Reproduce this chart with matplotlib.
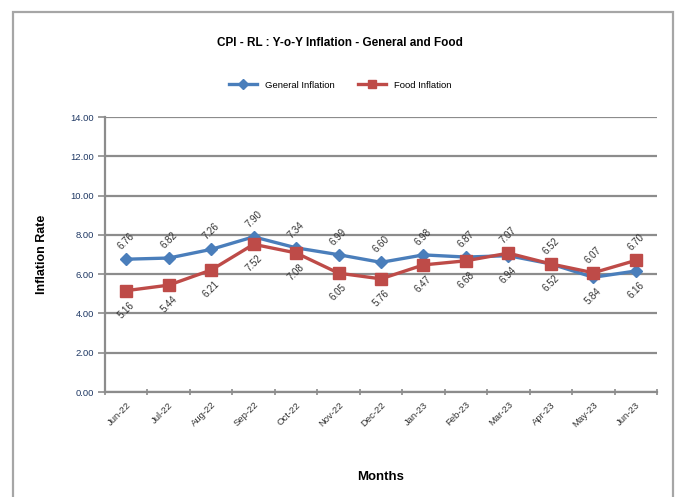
import matplotlib
matplotlib.use("Agg")
import matplotlib.pyplot as plt
from matplotlib.patches import Rectangle

months = ["Jun-22", "Jul-22", "Aug-22", "Sep-22", "Oct-22", "Nov-22", "Dec-22",
          "Jan-23", "Feb-23", "Mar-23", "Apr-23", "May-23", "Jun-23"]
general = [6.76, 6.82, 7.26, 7.90, 7.34, 6.99, 6.60, 6.98, 6.87, 6.94, 6.52, 5.84, 6.16]
food = [5.16, 5.44, 6.21, 7.52, 7.08, 6.05, 5.76, 6.47, 6.68, 7.07, 6.52, 6.07, 6.70]
yticks = [0, 2, 4, 6, 8, 10, 12, 14]

plt.rcParams["font.family"] = ["Liberation Sans", "DejaVu Sans"]

BLUE = "#4A7EBB"
RED = "#BE4B48"
GRID = "#8C8C8C"

fig = plt.figure(figsize=(6.8, 4.97), dpi=100)
ax = fig.add_axes([105 / 680, 105 / 497, 552 / 680, 275 / 497])

# outer chart frame
fig.patches.append(Rectangle((13 / 680, -0.05), 660 / 680, 1.05 - 12 / 497,
                             transform=fig.transFigure, fill=False,
                             edgecolor="#A6A6A6", linewidth=1.6))

x = list(range(len(months)))
ax.plot(x, general, color=BLUE, lw=2.4, marker="D", ms=6, label="General Inflation", zorder=3)
ax.plot(x, food, color=RED, lw=2.4, marker="s", ms=8, label="Food Inflation", zorder=4)

for i, (g, f) in enumerate(zip(general, food)):
    for val, above in ((g, g >= f), (f, f > g)):
        dy = 13 if above else -14
        ax.annotate(f"{val:.2f}", (i, val), xytext=(0, dy), textcoords="offset points",
                    rotation=45, ha="center", va="center", fontsize=7, color="#333333")

ax.set_xlim(-0.5, len(months) - 0.5)
ax.set_ylim(0, 14)
ax.set_yticks(yticks)
ax.set_yticklabels([f"{v:.2f}" for v in yticks], fontsize=6.8, color="#1F3864")
ax.set_xticks([i - 0.5 for i in range(len(months) + 1)], minor=False)
ax.set_xticklabels([])
ax.set_xticks(x, minor=True)
ax.set_xticklabels(months, minor=True, rotation=45, ha="right", rotation_mode="anchor",
                   fontsize=6.8, color="#333333")
ax.tick_params(axis="x", which="minor", length=0, pad=6)
ax.tick_params(axis="x", which="major", length=5, direction="inout", color=GRID, width=1.2)
ax.tick_params(axis="y", length=5, direction="out", color=GRID, width=1.2, pad=3)

ax.grid(axis="y", color=GRID, lw=1.6)
ax.set_axisbelow(True)
for side in ("top", "right"):
    ax.spines[side].set_visible(False)
for side in ("left", "bottom"):
    ax.spines[side].set_color(GRID)
    ax.spines[side].set_linewidth(1.6)

ax.set_ylabel("Inflation Rate", fontsize=9, fontweight="bold", labelpad=16)
ax.set_xlabel("Months", fontsize=9.5, fontweight="bold", labelpad=30)
fig.text(0.5, 1 - 43 / 497, "CPI - RL : Y-o-Y Inflation - General and Food",
         ha="center", va="center", fontsize=8.5, fontweight="bold")
fig.legend(loc="center", bbox_to_anchor=(0.5, 1 - 85 / 497), ncol=2, frameon=False,
           fontsize=6.8, handlelength=3, columnspacing=2.5, markerscale=0.8)

fig.savefig("out.png", dpi=100)
